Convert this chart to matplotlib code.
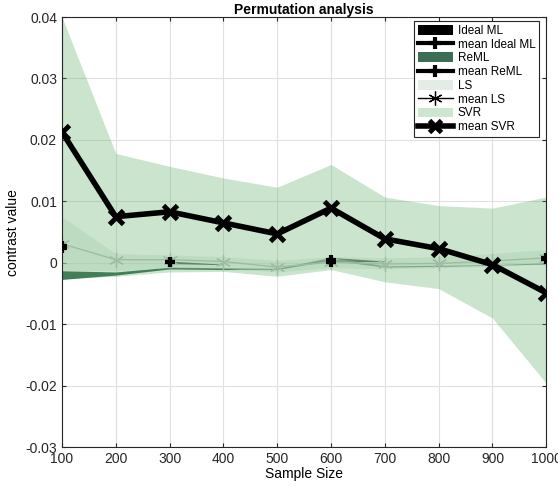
import numpy as np
import matplotlib.pyplot as plt
from matplotlib.patches import Patch
from matplotlib.lines import Line2D

sample_size = [100, 200, 300, 400, 500, 600, 700, 800, 900, 1000]

# SVR
svr_mean = [0.0213, 0.0075, 0.0083, 0.0065, 0.0047, 0.0089, 0.0039, 0.0023, -0.0003, -0.0049]
svr_hi = [0.0400, 0.0178, 0.0157, 0.0138, 0.0123, 0.0160, 0.0107, 0.0093, 0.0089, 0.0107]
svr_lo = [-0.0026, -0.0022, -0.0015, -0.0014, -0.0022, -0.0011, -0.0031, -0.0042, -0.0090, -0.0196]

# LS
ls_mean = [0.0031, 0.0005, 0.0005, 0.0002, -0.0007, 0.0001, -0.0002, -0.0001, 0.0003, 0.0008]
ls_hi = [0.0075, 0.0015, 0.0013, 0.0010, 0.0004, 0.0010, 0.0008, 0.0010, 0.0015, 0.0022]
ls_lo = [-0.0012, -0.0013, -0.0008, -0.0009, -0.0015, -0.0008, -0.0010, -0.0008, -0.0006, -0.0002]

# ReML
reml_mean = [0.0024, np.nan, 0.0001, np.nan, np.nan, 0.0002, np.nan, np.nan, np.nan, 0.0006]
reml_hi = [-0.0013, -0.0015, -0.0007, -0.0008, -0.0009, 0.0009, -0.0005, -0.0004, -0.0003, 0.0000]
reml_lo = [-0.0027, -0.0020, -0.0010, -0.0011, -0.0011, 0.0004, -0.0007, -0.0006, -0.0004, -0.0002]

# Ideal ML
ideal_mean = [0.0028, np.nan, 0.0002, np.nan, np.nan, 0.0004, np.nan, np.nan, np.nan, 0.0007]
ideal_hi = [np.nan, np.nan, 0.0002, -0.0003, np.nan, 0.0008, 0.0002, np.nan, np.nan, np.nan]
ideal_lo = [np.nan, np.nan, -0.0002, -0.0004, np.nan, 0.0001, 0.0001, np.nan, np.nan, np.nan]

reml_color = (0.23, 0.43, 0.33)
ls_color = (0.85, 0.90, 0.86)
svr_color = (0.33, 0.66, 0.37)
legend_ls = (0.89, 0.93, 0.90)
legend_svr = (0.80, 0.90, 0.81)

# six-spoke asterisk like the one used for the LS mean
asterisk = (6, 2, 0)

plt.rcParams['font.family'] = 'Liberation Sans'
plt.rcParams['font.size'] = 9.5

fig = plt.figure(figsize=(5.58, 4.86), dpi=100)
ax = fig.add_axes([0.111, 0.080, 0.868, 0.885])

ax.fill_between(sample_size, ideal_lo, ideal_hi, color='black', lw=0, zorder=2)
ax.fill_between(sample_size, reml_lo, reml_hi, color=reml_color, lw=0, zorder=2.1)
ax.fill_between(sample_size, ls_lo, ls_hi, color=ls_color, alpha=0.5, lw=0, zorder=2.2)
ax.plot(sample_size, ls_mean, color=(0.76, 0.77, 0.76), lw=1, marker=asterisk,
        markersize=11, markeredgewidth=0.9, zorder=2.3)
ax.fill_between(sample_size, svr_lo, svr_hi, color=svr_color, alpha=0.3, lw=0, zorder=2.4)
ax.plot(sample_size, reml_mean, color='black', lw=3, marker='+', markersize=7,
        markeredgewidth=3, zorder=2.5)
ax.plot(sample_size, ideal_mean, color='black', lw=3, marker='+', markersize=7,
        markeredgewidth=3, zorder=2.6)
ax.plot(sample_size, svr_mean, color='black', lw=4, marker='x', markersize=10,
        markeredgewidth=3.5, zorder=3)

ax.set_xlim(100, 1000)
ax.set_ylim(-0.03, 0.04)
ax.set_xticks(sample_size)
ax.set_yticks([-0.03, -0.02, -0.01, 0, 0.01, 0.02, 0.03, 0.04])
ax.set_yticklabels(['-0.03', '-0.02', '-0.01', '0', '0.01', '0.02', '0.03', '0.04'])
ax.grid(True, color=(0.88, 0.88, 0.88), lw=0.8)
ax.set_axisbelow(True)
ax.tick_params(direction='in', top=True, right=True, length=3, colors=(0.15, 0.15, 0.15),
               labelsize=10)
for s in ax.spines.values():
    s.set_color((0.15, 0.15, 0.15))
    s.set_linewidth(0.8)

ax.set_title('Permutation analysis', fontweight='bold', fontsize=10, pad=2)
ax.set_xlabel('Sample Size', fontsize=10, labelpad=1)
ax.set_ylabel('contrast value', fontsize=10, labelpad=4)

handles = [
    Patch(facecolor='black', edgecolor='none'),
    Line2D([], [], color='black', lw=3, marker='+', markersize=8, markeredgewidth=3),
    Patch(facecolor=reml_color, edgecolor='none'),
    Line2D([], [], color='black', lw=3, marker='+', markersize=8, markeredgewidth=3),
    Patch(facecolor=legend_ls, edgecolor='none'),
    Line2D([], [], color='black', lw=1, marker=asterisk, markersize=10, markeredgewidth=0.9),
    Patch(facecolor=legend_svr, edgecolor='none'),
    Line2D([], [], color='black', lw=4, marker='x', markersize=9, markeredgewidth=3.5),
]
labels = ['Ideal ML', 'mean Ideal ML', 'ReML', 'mean ReML', 'LS', 'mean LS', 'SVR', 'mean SVR']
leg = ax.legend(handles, labels, loc='upper right', bbox_to_anchor=(0.985, 0.99),
                fontsize=8.5, frameon=True, fancybox=False, handlelength=3.0,
                handleheight=0.9, labelspacing=0.15, borderpad=0.3, handletextpad=0.4,
                borderaxespad=0)
leg.get_frame().set_edgecolor((0.15, 0.15, 0.15))
leg.get_frame().set_linewidth(0.8)
leg.get_frame().set_alpha(1)

fig.savefig('out.png', dpi=100)
